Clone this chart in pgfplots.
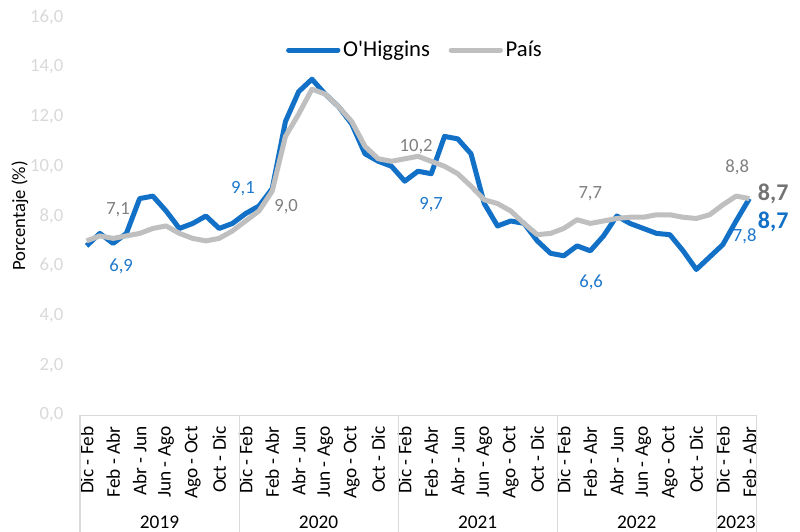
\documentclass[border=0pt]{standalone}
\usepackage{fontspec}
\setmainfont{Carlito}
\newfontfamily\plainfont{Carlito}
\usepackage{pgfplots}
\usepackage{pgfplotstable}
\pgfplotsset{compat=1.18}
\definecolor{ohblue}{RGB}{18,113,198}
\definecolor{pgray}{RGB}{191,191,191}
\definecolor{lgray}{RGB}{217,217,217}
\definecolor{labgray}{RGB}{128,128,128}
\definecolor{labblue}{RGB}{30,120,205}

\pgfplotstableread{
i oh pais
0 6.8 7.0
1 7.3 7.2
2 6.9 7.1
3 7.3 7.2
4 8.7 7.3
5 8.8 7.5
6 8.2 7.6
7 7.5 7.3
8 7.7 7.1
9 8.0 7.0
10 7.5 7.1
11 7.7 7.4
12 8.1 7.8
13 8.4 8.2
14 9.1 9.0
15 11.8 11.2
16 13.0 12.1
17 13.5 13.1
18 12.9 12.9
19 12.4 12.4
20 11.7 11.8
21 10.5 10.8
22 10.2 10.3
23 10.0 10.2
24 9.4 10.3
25 9.8 10.4
26 9.7 10.2
27 11.2 10.0
28 11.1 9.7
29 10.5 9.2
30 8.5 8.65
31 7.6 8.5
32 7.8 8.2
33 7.7 7.7
34 7.0 7.25
35 6.5 7.3
36 6.4 7.5
37 6.8 7.85
38 6.6 7.7
39 7.2 7.8
40 8.0 7.9
41 7.7 7.95
42 7.5 7.95
43 7.3 8.05
44 7.25 8.05
45 6.6 7.95
46 5.85 7.9
47 6.35 8.05
48 6.85 8.45
49 7.8 8.8
50 8.7 8.7
}\datatable

\begin{document}
\begin{tikzpicture}
\useasboundingbox (0,0) rectangle (600pt,399pt);
\begin{axis}[
  at={(60pt,87.75pt)}, anchor=south west, scale only axis,
  width=507pt, height=298.5pt,
  xmin=-0.5, xmax=50.5, ymin=0, ymax=16,
  clip=false,
  axis line style={draw=none},
  major tick length=0pt,
  xtick={0,2,...,50},
  xticklabels={Dic - Feb, Feb - Abr, Abr - Jun, Jun - Ago, Ago - Oct, Oct - Dic,
               Dic - Feb, Feb - Abr, Abr - Jun, Jun - Ago, Ago - Oct, Oct - Dic,
               Dic - Feb, Feb - Abr, Abr - Jun, Jun - Ago, Ago - Oct, Oct - Dic,
               Dic - Feb, Feb - Abr, Abr - Jun, Jun - Ago, Ago - Oct, Oct - Dic,
               Dic - Feb, Feb - Abr},
  xticklabel style={rotate=90, anchor=east, font=\fontsize{14.5}{16}\selectfont, text=black},
  xticklabel shift=5pt,
  ytick={0,2,...,16},
  yticklabel style={text=lgray, font=\fontsize{14}{16}\selectfont,
    /pgf/number format/.cd, fixed, fixed zerofill, precision=1, use comma, assume math mode=true},
  yticklabel shift=9pt,
  ylabel={Porcentaje (\%)},
  every axis y label/.style={at={(axis description cs:-0.089,0.5)}, rotate=90, anchor=center,
    font=\fontsize{14}{16}\selectfont},
  legend style={at={(axis description cs:0.496,0.917)}, anchor=center, draw=none, fill=none,
    legend columns=2, font=\fontsize{17}{20}\selectfont,
    /tikz/every even column/.append style={column sep=12pt}},
  legend image code/.code={\draw[#1, line cap=round] (0pt,0pt) -- (37pt,0pt);},
]
\addplot[ohblue, line width=3.75pt, line join=round] table[x=i,y=oh]{\datatable};
\addlegendentry{{\plainfont O'Higgins}}
\addplot[pgray, line width=3.75pt, line join=round] table[x=i,y=pais]{\datatable};
\addlegendentry{País}

% axis base line and group separators
\draw[lgray, line width=0.75pt] (axis cs:-0.5,0) -- (axis cs:50.5,0);
\pgfplotsinvokeforeach{-0.5,11.5,23.5,35.5,47.5,50.5}{
  \draw[lgray, line width=0.75pt] (axis cs:#1,0) -- (axis cs:#1,-4.71);
}
% year labels
\begin{scope}[font=\fontsize{14.5}{16}\selectfont, every node/.style={anchor=base, inner sep=0pt}]
\node at (axis cs:5.5,-4.58) {2019};
\node at (axis cs:17.5,-4.58) {2020};
\node at (axis cs:29.5,-4.58) {2021};
\node at (axis cs:41.5,-4.58) {2022};
\node at (axis cs:49,-4.58) {2023};
\end{scope}

% data labels
\begin{scope}[font=\fontsize{14}{16}\selectfont]
\node[text=labgray] at (axis cs:2.37,8.25) {7,1};
\node[text=labblue] at (axis cs:2.6,5.96) {6,9};
\node[text=labblue] at (axis cs:11.8,9.1) {9,1};
\node[text=labgray] at (axis cs:15.05,8.37) {9,0};
\node[text=labgray] at (axis cs:24.86,10.78) {10,2};
\node[text=labblue] at (axis cs:25.99,8.45) {9,7};
\node[text=labgray] at (axis cs:38.0,8.89) {7,7};
\node[text=labblue] at (axis cs:38.06,5.35) {6,6};
\node[text=labgray] at (axis cs:49.08,9.96) {8,8};
\node[text=labblue] at (axis cs:49.65,7.2) {7,8};
\end{scope}
\begin{scope}[font=\fontsize{18}{20}\selectfont\bfseries]
\node[text=labgray!90!black] at (axis cs:51.8,8.89) {8,7};
\node[text=ohblue] at (axis cs:51.8,7.75) {8,7};
\end{scope}
\end{axis}
\end{tikzpicture}
\end{document}
